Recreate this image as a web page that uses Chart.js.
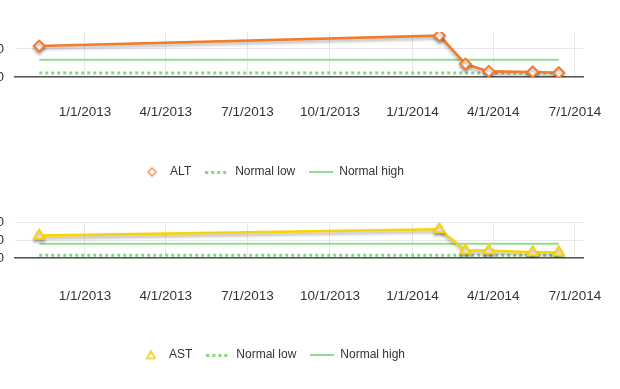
<!DOCTYPE html>
<html>
<head>
<meta charset="utf-8">
<script src="https://cdn.jsdelivr.net/npm/chart.js@4.4.1/dist/chart.umd.min.js"></script>
<style>
  html, body { margin: 0; padding: 0; background: #fff; }
  body { width: 620px; height: 389px; overflow: hidden; position: relative; }
  canvas { position: absolute; left: -40px; }
  #altChart { top: 0; }
  #astChart { top: 190px; }
</style>
</head>
<body>
<canvas id="altChart" width="643" height="192"></canvas>
<canvas id="astChart" width="643" height="185"></canvas>
<script>
// sample dates, shared by both panels
var testDates = ['2012-11-11', '2014-01-31', '2014-03-01', '2014-03-27', '2014-05-15', '2014-06-13'];

var altValues = [110, 147, 46, 20, 18, 15];
var altLow = [14, 14, 14, 14, 14, 14];
var altHigh = [61, 61, 61, 61, 61, 61];

var astValues = [63, 81, 21, 21, 16, 16];
var astLow = [8, 8, 8, 8, 8, 8];
var astHigh = [40, 40, 40, 40, 40, 40];

var xTickLabels = ['1/1/2013', '4/1/2013', '7/1/2013', '10/1/2013', '1/1/2014', '4/1/2014', '7/1/2014'];
var xRange = ['2012-10-15', '2014-07-10'];
var altTicks = [0, 100];
var astTicks = [0, 50, 100];

Chart.defaults.font.family = "'Liberation Sans', Arial, sans-serif";

function toDay(iso) {
    var p = iso.split('-');
    return Date.UTC(+p[0], +p[1] - 1, +p[2]) / 864e5;
}
function labelDay(lbl) {
    var p = lbl.split('/');
    return Date.UTC(+p[2], +p[0] - 1, +p[1]) / 864e5;
}
var xTickDays = xTickLabels.map(labelDay);
function points(vals) {
    return vals.map(function (v, i) { return { x: toDay(testDates[i]), y: v }; });
}

// little pictures for the legend
function icon(w, h, draw) {
    var c = document.createElement('canvas');
    c.width = w; c.height = h;
    draw(c.getContext('2d'));
    return c;
}
function diamondIcon(color) {
    return icon(11, 11, function (g) {
        g.beginPath();
        g.moveTo(5.5, 1.5); g.lineTo(9.5, 5.5); g.lineTo(5.5, 9.5); g.lineTo(1.5, 5.5); g.closePath();
        g.fillStyle = '#fff'; g.fill();
        g.lineWidth = 1.6; g.strokeStyle = color; g.stroke();
    });
}
function triangleIcon(color) {
    return icon(11, 11, function (g) {
        g.beginPath();
        g.moveTo(5.5, 1.5); g.lineTo(9.5, 9); g.lineTo(1.5, 9); g.closePath();
        g.fillStyle = '#fff'; g.fill();
        g.lineWidth = 1.6; g.strokeStyle = color; g.stroke();
    });
}
var dottedIcon = icon(24, 3, function (g) {
    g.fillStyle = '#86d686';
    for (var x = 0; x < 24; x += 6) g.fillRect(x, 0, 3, 3);
});
var solidIcon = icon(24, 2, function (g) {
    g.fillStyle = '#92dd92';
    g.fillRect(0, 0, 24, 2);
});

// grey drop shadow under the main series
var lineShadow = {
    id: 'lineShadow',
    beforeDatasetDraw: function (chart, args) {
        if (args.index !== 0) return;
        var ctx = chart.ctx;
        ctx.save();
        ctx.shadowColor = 'rgba(0,0,0,0.28)';
        ctx.shadowBlur = 3;
        ctx.shadowOffsetY = 2.5;
    },
    afterDatasetDraw: function (chart, args) {
        if (args.index !== 0) return;
        chart.ctx.restore();
    }
};

function makeChart(id, opts) {
    var icons = [opts.icon, dottedIcon, solidIcon];
    return new Chart(document.getElementById(id), {
        type: 'line',
        plugins: [lineShadow],
        data: {
            datasets: [{
                label: opts.label,
                data: points(opts.values),
                borderColor: opts.color,
                borderWidth: 2.6,
                pointStyle: opts.pointStyle,
                pointRadius: opts.pointRadius,
                pointBorderWidth: 2,
                pointBackgroundColor: '#fff',
                pointBorderColor: opts.color,
                tension: 0
            }, {
                label: 'Normal low',
                data: points(opts.low),
                borderColor: '#86d686',
                borderWidth: 3,
                borderDash: [3, 3],
                pointRadius: 0
            }, {
                label: 'Normal high',
                data: points(opts.high),
                borderColor: '#92dd92',
                borderWidth: 2,
                pointRadius: 0
            }]
        },
        options: {
            responsive: false,
            animation: false,
            layout: { padding: { top: opts.padTop, left: 1, right: 20, bottom: 4 } },
            plugins: {
                tooltip: { enabled: false },
                legend: {
                    position: 'bottom',
                    labels: {
                        usePointStyle: true,
                        pointStyleWidth: 24,
                        padding: 14,
                        color: '#333',
                        font: { size: 12 },
                        generateLabels: function (chart) {
                            var items = Chart.defaults.plugins.legend.labels.generateLabels(chart);
                            items.forEach(function (it, i) { it.pointStyle = icons[i]; });
                            return items;
                        }
                    }
                }
            },
            scales: {
                x: {
                    type: 'linear',
                    min: toDay(xRange[0]),
                    max: toDay(xRange[1]),
                    afterBuildTicks: function (s) {
                        s.ticks = xTickDays.map(function (v) { return { value: v }; });
                    },
                    afterFit: function (s) { s.height = opts.xHeight; },
                    ticks: {
                        autoSkip: false,
                        maxRotation: 0,
                        padding: 0,
                        color: '#333',
                        font: { size: 13.5 },
                        callback: function (v, i) { return xTickLabels[i]; }
                    },
                    grid: { color: '#e8e8e8', drawTicks: true, tickLength: opts.xPad, tickColor: 'rgba(0,0,0,0)' },
                    border: { display: true, color: '#555', width: 1.5 }
                },
                y: {
                    min: 0,
                    max: opts.yMax,
                    afterBuildTicks: function (s) {
                        s.ticks = opts.yTicks.map(function (v) { return { value: v }; });
                    },
                    afterFit: function (s) { s.width = 54; },
                    ticks: { autoSkip: false, padding: 11, color: '#333', font: { size: 13.5 } },
                    grid: { color: '#e8e8e8', drawTicks: false },
                    border: { display: false }
                }
            }
        }
    });
}

makeChart('altChart', {
    label: 'ALT', values: altValues, low: altLow, high: altHigh,
    color: '#f07c2c', pointStyle: 'rectRot', pointRadius: 5.5,
    icon: diamondIcon('#f09a5c'),
    yMax: 160, yTicks: altTicks, padTop: 32, xHeight: 75, xPad: 27
});
makeChart('astChart', {
    label: 'AST', values: astValues, low: astLow, high: astHigh,
    color: '#fad20a', pointStyle: 'triangle', pointRadius: 6,
    icon: triangleIcon('#f2cc1a'),
    yMax: 100, yTicks: astTicks, padTop: 32.5, xHeight: 77, xPad: 30
});
</script>
</body>
</html>
